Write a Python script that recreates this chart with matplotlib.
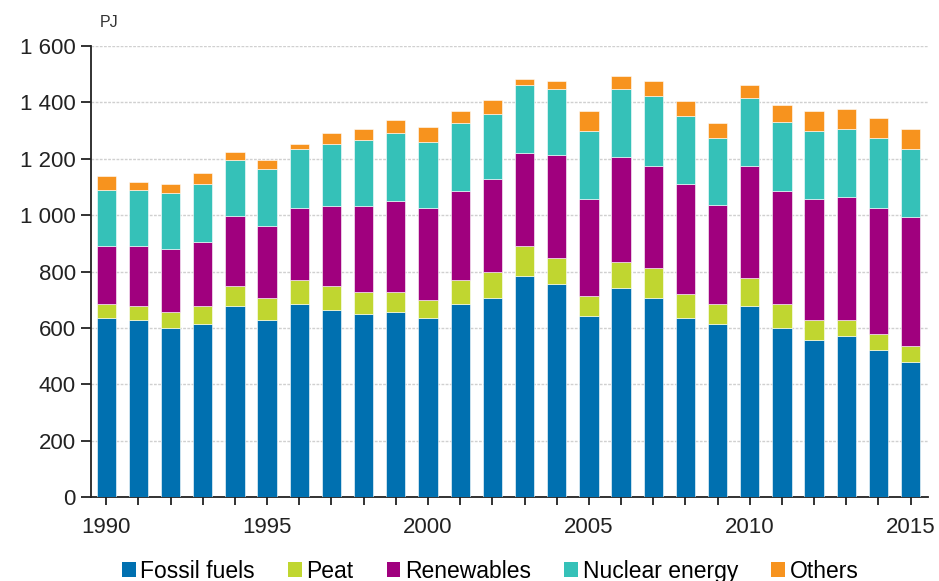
import numpy as np
import matplotlib.pyplot as plt
from matplotlib.patches import Patch
from matplotlib.ticker import FuncFormatter

plt.rcParams['font.family'] = ['Liberation Sans', 'DejaVu Sans']

years = list(range(1990, 2016))
fossil = [635, 628, 599, 614, 678, 628, 685, 664, 649, 656, 635, 685, 706,
          785, 757, 642, 743, 707, 635, 614, 678, 600, 557, 572, 522, 478]
peat = [50, 50, 57, 64, 72, 79, 85, 86, 78, 71, 64, 86, 92,
        106, 92, 71, 92, 106, 86, 71, 100, 85, 71, 56, 57, 57]
renewables = [206, 213, 223, 228, 248, 255, 257, 283, 306, 322, 328, 313, 329,
              328, 363, 343, 370, 363, 391, 350, 398, 399, 428, 435, 448, 457]
nuclear = [200, 200, 198, 206, 199, 200, 206, 221, 235, 241, 234, 241, 233,
           241, 234, 241, 241, 248, 241, 240, 241, 248, 241, 241, 248, 241]
others = [48, 27, 34, 36, 27, 35, 21, 36, 36, 49, 50, 43, 50,
          21, 28, 71, 49, 50, 50, 50, 43, 57, 71, 71, 71, 71]

names = ['Fossil fuels', 'Peat', 'Renewables', 'Nuclear energy', 'Others']
colors = ['#0070b0', '#c0d630', '#a0007e', '#35c1b8', '#f7931e']
series = [fossil, peat, renewables, nuclear, others]

fig = plt.figure(figsize=(9.39, 5.81), dpi=100)
ax = fig.add_axes([0.097, 0.144, 0.891, 0.777])

bottom = np.zeros(len(years))
for vals, c in zip(series, colors):
    ax.bar(years, vals, width=0.6, bottom=bottom, color=c,
           edgecolor='white', linewidth=0.4, zorder=3)
    bottom += np.array(vals)

ax.set_xlim(1989.53, 2015.53)
ax.set_ylim(0, 1600)
ax.set_yticks(range(0, 1601, 200))
ax.yaxis.set_major_formatter(FuncFormatter(lambda v, p: f"{v:,.0f}".replace(",", " ")))
ax.set_xticks(years)
ax.set_xticklabels([str(y) if y % 5 == 0 else '' for y in years])

ax.grid(axis='y', color='#d0d0d0', linestyle=(0, (2, 1)), linewidth=1, zorder=0)
ax.spines['top'].set_visible(False)
ax.spines['right'].set_visible(False)
for s in ['left', 'bottom']:
    ax.spines[s].set_color('#222222')
    ax.spines[s].set_linewidth(1.3)
ax.tick_params(axis='y', length=7, width=1.3, labelsize=16, colors='#222222', pad=4)
ax.tick_params(axis='x', length=6, width=1.3, labelsize=16, colors='#222222', pad=8)

fig.text(0.106, 0.962, 'PJ', fontsize=11.5, color='#333333', va='center')

handles = [Patch(facecolor=c, edgecolor='none') for c in colors]
fig.legend(handles, names, loc='center', bbox_to_anchor=(0.522, 0.017), ncol=5,
           frameon=False, fontsize=16.5, handlelength=0.6, handleheight=0.6,
           handletextpad=0.2, columnspacing=1.45, borderaxespad=0)

fig.savefig('out.png', dpi=100)
